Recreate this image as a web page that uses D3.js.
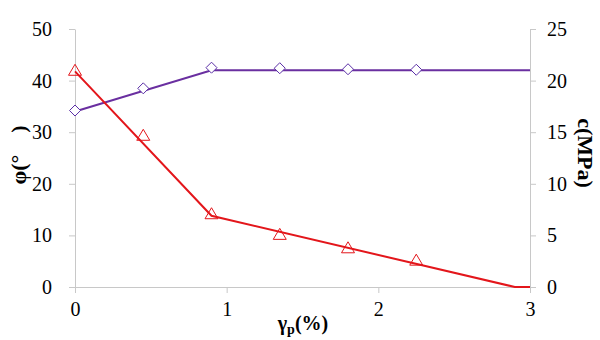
<!DOCTYPE html>
<html>
<head>
<meta charset="utf-8">
<script src="https://cdn.jsdelivr.net/npm/d3@7/dist/d3.min.js"></script>
<style>
  html, body { margin: 0; padding: 0; background: #fff; }
</style>
</head>
<body>
<svg id="chart" width="600" height="340"></svg>
<script>
// ---- data ----
const strainPts = [0, 0.45, 0.9, 1.35, 1.8, 2.25];          // γp (%) of measured points
const phiPts    = [34.2, 38.5, 42.5, 42.4, 42.2, 42.1];     // φ (°) markers
const cPts      = [21.0, 14.7, 7.1, 5.1, 3.8, 2.6];          // c (MPa) markers
const phiLineX  = [0, 0.9, 3];                               // fitted φ line
const phiLineY  = [34, 42, 42];
const cLineX    = [0, 0.9, 2.9, 3];                          // fitted c line
const cLineY    = [20.9, 6.9, 0, 0];
const xTicks    = [0, 1, 2, 3];
const phiTicks  = [0, 10, 20, 30, 40, 50];
const cTicks    = [0, 5, 10, 15, 20, 25];

// ---- layout ----
const FONT = "Liberation Serif";
const svg = d3.select("#chart");
const L = 75, R = 530, T = 29, B = 287;
const x  = d3.scaleLinear().domain([0, 3]).range([L, R]);
const yL = d3.scaleLinear().domain([0, 50]).range([B, T]);
const yR = d3.scaleLinear().domain([0, 25]).range([B, T]);

const axisColor = "#c8c8c8";
const red = "#e3161b", purple = "#6a2fa0";

function styleAxis(g) {
  g.attr("font-family", FONT).attr("font-size", 20);
  g.selectAll("path.domain").attr("stroke", axisColor).attr("stroke-width", 1);
  g.selectAll(".tick line").attr("stroke", axisColor).attr("stroke-width", 1);
  g.selectAll(".tick text").attr("fill", "#000");
}

svg.append("g").attr("transform", `translate(0,${B})`)
  .call(d3.axisBottom(x).tickValues(xTicks).tickFormat(d3.format("d")).tickSize(6).tickSizeOuter(0).tickPadding(9))
  .call(styleAxis);

svg.append("g").attr("transform", `translate(${L},0)`)
  .call(d3.axisLeft(yL).tickValues(phiTicks).tickSize(6).tickSizeOuter(0).tickPadding(17))
  .call(styleAxis);

svg.append("g").attr("transform", `translate(${R},0)`)
  .call(d3.axisRight(yR).tickValues(cTicks).tickSize(6).tickSizeOuter(0).tickPadding(11))
  .call(styleAxis);

// ---- lines ----
const phiLine = d3.line().x(d => x(d[0])).y(d => yL(d[1]));
const cLine   = d3.line().x(d => x(d[0])).y(d => yR(d[1]));

svg.append("path").datum(phiLineX.map((v, i) => [v, phiLineY[i]]))
  .attr("d", phiLine).attr("fill", "none").attr("stroke", purple).attr("stroke-width", 2);
svg.append("path").datum(cLineX.map((v, i) => [v, cLineY[i]]))
  .attr("d", cLine).attr("fill", "none").attr("stroke", red).attr("stroke-width", 2);

// ---- markers ----
const diamond = "M0,-5.5L5.5,0L0,5.5L-5.5,0Z";
const triangle = "M0,-6L6.5,5L-6.5,5Z";
svg.append("g").selectAll("path").data(strainPts.map((v, i) => [v, phiPts[i]])).join("path")
  .attr("d", diamond)
  .attr("transform", d => `translate(${x(d[0])},${yL(d[1])})`)
  .attr("fill", "#fff").attr("stroke", "#5a2ea6").attr("stroke-width", 1);
svg.append("g").selectAll("path").data(strainPts.map((v, i) => [v, cPts[i]])).join("path")
  .attr("d", triangle)
  .attr("transform", d => `translate(${x(d[0])},${yR(d[1])})`)
  .attr("fill", "none").attr("stroke", red).attr("stroke-width", 1);

// ---- titles ----
svg.append("text")
  .attr("transform", `translate(26,155) rotate(-90)`)
  .attr("text-anchor", "middle").attr("font-family", FONT)
  .attr("font-size", 22).attr("font-weight", "bold")
  .text("φ(°\u2003)");

svg.append("text")
  .attr("transform", `translate(578,153) rotate(90)`)
  .attr("text-anchor", "middle").attr("font-family", FONT)
  .attr("font-size", 22).attr("font-weight", "bold")
  .text("c(MPa)");

const xt = svg.append("text")
  .attr("x", 303).attr("y", 330)
  .attr("text-anchor", "middle").attr("font-family", FONT)
  .attr("font-size", 20).attr("font-weight", "bold");
xt.append("tspan").text("γ");
xt.append("tspan").attr("dy", 4).attr("font-size", 14).text("p");
xt.append("tspan").attr("dy", -4).text("(%)");
</script>
</body>
</html>
